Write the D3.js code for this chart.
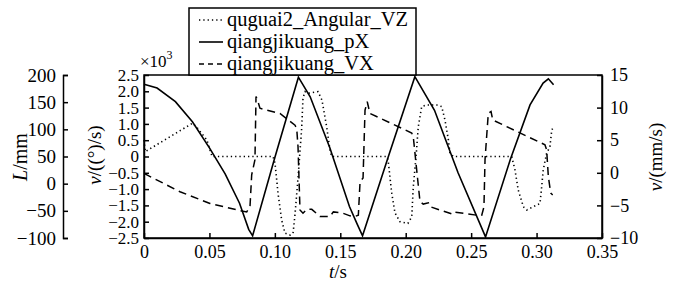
<!DOCTYPE html>
<html>
<head>
<meta charset="utf-8">
<script src="https://d3js.org/d3.v7.min.js"></script>
<style>
  body { margin: 0; background: #fff; }
  text { font-family: "Liberation Serif", "Times New Roman", serif; fill: #000; }
</style>
</head>
<body>
<svg width="676" height="282"></svg>
<script>
// ---- data ----
// qiangjikuang_pX : L/mm (outer left axis)
var pxTime  = [0, 0.010, 0.024, 0.037, 0.050, 0.062, 0.073, 0.080, 0.083, 0.100, 0.118, 0.127, 0.142, 0.157, 0.163, 0.167, 0.187, 0.207, 0.222, 0.240, 0.261, 0.280, 0.295, 0.305, 0.309, 0.313];
var pxValue = [183, 176, 151, 114, 66, 18, -36, -84, -96, 48, 196, 160, 66, -42, -75, -96, 52, 197, 135, 20, -98, 45, 145, 185, 193, 182];

// qiangjikuang_VX : v/(mm/s) (right axis)
var vxTime  = [0, 0.0275, 0.0504, 0.0734, 0.0785, 0.081, 0.0823, 0.0848, 0.0856, 0.0871, 0.0886, 0.1039, 0.1154, 0.1167, 0.1177, 0.1192, 0.1215, 0.1243, 0.1282, 0.1345, 0.1421, 0.1447, 0.1521, 0.1574, 0.1612, 0.1638, 0.1651, 0.1674, 0.1689, 0.1706, 0.1727, 0.2046, 0.2058, 0.2084, 0.2109, 0.2134, 0.2173, 0.2186, 0.2351, 0.2364, 0.2542, 0.2581, 0.2598, 0.2606, 0.2631, 0.2652, 0.2665, 0.3064, 0.3077, 0.309, 0.3108, 0.3123];
var vxValue = [-0.1, -2.9, -4.7, -5.8, -6.0, -5.2, -0.3, 2.0, 11.7, 10.9, 9.9, 9.1, 7.3, 6.8, 4.0, -5.7, -6.2, -5.6, -5.6, -6.7, -6.7, -6.0, -6.2, -6.6, -6.7, -6.5, -1.4, -0.8, 9.6, 10.9, 9.1, 6.1, 5.5, 0.4, -4.4, -4.8, -4.6, -5.2, -6.3, -6.0, -6.5, -6.5, -5.2, 2.0, 9.1, 9.4, 8.1, 4.3, 3.5, -0.6, -3.1, -3.4];

// quguai2_Angular_VZ : v/((°)/s) x10^3 (inner left axis)
var vzTime  = [0, 0.001, 0.037, 0.040, 0.048, 0.052, 0.0986, 0.1001, 0.1024, 0.1052, 0.1077, 0.1116, 0.1139, 0.1154, 0.1177, 0.1205, 0.1215, 0.123, 0.1253, 0.133, 0.136, 0.1396, 0.1421, 0.1434, 0.1854, 0.1865, 0.1893, 0.1918, 0.1956, 0.2017, 0.2046, 0.2058, 0.2079, 0.2096, 0.2122, 0.216, 0.2237, 0.2275, 0.23, 0.2326, 0.2338, 0.2364, 0.281, 0.2835, 0.286, 0.2899, 0.2925, 0.2975, 0.3026, 0.3039, 0.3051, 0.3077, 0.3102, 0.3116, 0.3123];
var vzValue = [0.5, 0.15, 1.02, 0.91, 0.51, 0.0, 0.0, -0.2, -1.12, -1.95, -2.35, -2.41, -2.35, -1.78, -0.66, 0.87, 1.79, 1.99, 1.94, 1.99, 1.73, 0.91, 0.2, 0.0, 0.0, -0.1, -1.12, -1.73, -2.0, -2.05, -1.85, -0.93, 0.0, 0.91, 1.53, 1.58, 1.58, 1.53, 1.12, 0.51, 0.11, 0.0, 0.0, -0.41, -1.03, -1.54, -1.64, -1.54, -1.44, -0.93, -0.41, 0.1, 0.3, 0.81, 0.86];

var xTicks = [0, 0.05, 0.10, 0.15, 0.20, 0.25, 0.30, 0.35];
var lTicks = [-100, -50, 0, 50, 100, 150, 200];
var vzTicks = [-2.5, -2.0, -1.5, -1.0, -0.5, 0, 0.5, 1.0, 1.5, 2.0, 2.5];
var vxTicks = [-10, -5, 0, 5, 10, 15];

var legendNames = ["quguai2_Angular_VZ", "qiangjikuang_pX", "qiangjikuang_VX"];

// ---- layout ----
var FONT = "'Liberation Serif', 'Times New Roman', serif";
var plotL = 144, plotR = 602, plotT = 75, plotB = 238;
var svg = d3.select("svg");
svg.append("rect").attr("width", 676).attr("height", 282).attr("fill", "#fff");

var x = d3.scaleLinear().domain([0, 0.35]).range([plotL, plotR]);
var yL = d3.scaleLinear().domain([-100, 200]).range([plotB, plotT]);
var yV = d3.scaleLinear().domain([-2.5, 2.5]).range([plotB, plotT]);
var yR = d3.scaleLinear().domain([-10, 15]).range([plotB, plotT]);

function minus(s) { return s.replace("-", "\u2212"); }

function styleAxis(g, size) {
  g.attr("font-family", FONT);
  g.selectAll("path, line").attr("stroke", "#000").attr("stroke-width", 1.5);
  g.selectAll("text").attr("font-size", size).attr("fill", "#000");
}

// outer L axis
svg.append("g").attr("transform", "translate(63,0)")
  .call(d3.axisLeft(yL).tickValues(lTicks).tickSizeInner(-5).tickSizeOuter(-5).tickPadding(7)
    .tickFormat(function(d) { return minus(String(d)); }))
  .call(styleAxis, 19);

// inner left axis (x10^3)
svg.append("g").attr("transform", "translate(" + plotL + ",0)")
  .call(d3.axisLeft(yV).tickValues(vzTicks).tickSizeInner(-5).tickSizeOuter(0).tickPadding(5)
    .tickFormat(function(d) { return d === 0 ? "0" : minus(d.toFixed(1)); }))
  .call(styleAxis, 17);

// right axis
svg.append("g").attr("transform", "translate(" + plotR + ",0)")
  .call(d3.axisRight(yR).tickValues(vxTicks).tickSizeInner(-5).tickSizeOuter(0).tickPadding(8)
    .tickFormat(function(d) { return minus(String(d)); }))
  .call(styleAxis, 18);

// bottom axis
svg.append("g").attr("transform", "translate(0," + plotB + ")")
  .call(d3.axisBottom(x).tickValues(xTicks).tickSizeInner(-5).tickSizeOuter(0).tickPadding(7)
    .tickFormat(function(d) { return d === 0 ? "0" : d.toFixed(2); }))
  .call(styleAxis, 18);

// frame
svg.append("rect").attr("x", plotL).attr("y", plotT).attr("width", plotR - plotL).attr("height", plotB - plotT)
  .attr("fill", "none").attr("stroke", "#000").attr("stroke-width", 1.5);

// ---- series ----
function series(ts, vs, yScale, dash, width) {
  var pts = ts.map(function(t, i) { return [t, vs[i]]; });
  var line = d3.line().x(function(d) { return x(d[0]); }).y(function(d) { return yScale(d[1]); });
  svg.append("path").datum(pts).attr("d", line).attr("fill", "none")
    .attr("stroke", "#000").attr("stroke-width", width)
    .attr("stroke-dasharray", dash);
}
series(vzTime, vzValue, yV, "1.3,3", 1.6);
series(vxTime, vxValue, yR, "8,5", 1.5);
series(pxTime, pxValue, yL, null, 1.6);

// ---- titles ----
var ml = svg.append("text").attr("transform", "translate(27,157) rotate(-90)")
  .attr("text-anchor", "middle").attr("font-size", 20);
ml.append("tspan").attr("font-style", "italic").text("L");
ml.append("tspan").text("/mm");

var mv = svg.append("text").attr("transform", "translate(101,155) rotate(-90)")
  .attr("text-anchor", "middle").attr("font-size", 19);
mv.append("tspan").attr("font-style", "italic").text("v");
mv.append("tspan").text("/((\u00b0)/s)");

var mr = svg.append("text").attr("transform", "translate(662,157) rotate(-90)")
  .attr("text-anchor", "middle").attr("font-size", 19);
mr.append("tspan").attr("font-style", "italic").text("v");
mr.append("tspan").text("/(mm/s)");

var mt = svg.append("text").attr("x", 338).attr("y", 278).attr("text-anchor", "middle").attr("font-size", 19);
mt.append("tspan").attr("font-style", "italic").text("t");
mt.append("tspan").text("/s");

var mx = svg.append("text").attr("x", 140).attr("y", 67).attr("font-size", 17);
mx.append("tspan").text("\u00d710");
mx.append("tspan").attr("dy", -8).attr("font-size", 12).text("3");

// ---- legend ----
svg.append("rect").attr("x", 189).attr("y", 8).attr("width", 227).attr("height", 67)
  .attr("fill", "#fff").attr("stroke", "#000").attr("stroke-width", 1.5);
var dashes = ["1.3,3", null, "5,4"];
legendNames.forEach(function(name, i) {
  var cy = 20 + i * 22;
  svg.append("line").attr("x1", 199).attr("x2", 223).attr("y1", cy).attr("y2", cy)
    .attr("stroke", "#000").attr("stroke-width", 1.6).attr("stroke-dasharray", dashes[i]);
  svg.append("text").attr("x", 227).attr("y", cy + 6).attr("font-size", 20.5).text(name);
});

svg.selectAll("text").attr("font-family", FONT);
</script>
</body>
</html>
